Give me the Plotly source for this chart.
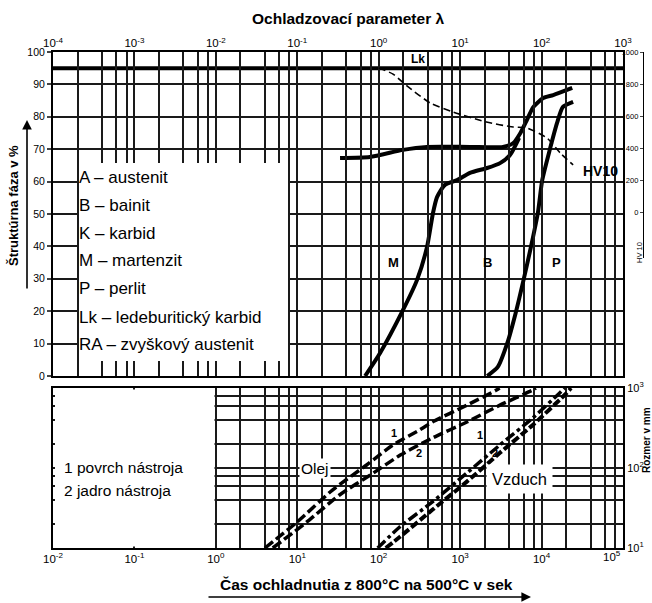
import plotly.graph_objects as go

W, H = 652, 603

# ---------------- data: upper chart (x = cooling parameter lambda) ----------------
lk_lambda = [1e-4, 1e3]
lk_pct = [95, 95]

hv_lambda = [1.0, 1.5, 2.2, 4.3, 8.2, 21, 45, 66, 117, 169, 244]
hv10 = [900, 862, 790, 681, 625, 562, 531, 525, 462, 369, 294]

upper_lambda = [0.335, 0.78, 1.99, 3.9, 13.2, 33.6, 45, 55, 66, 79, 105, 139, 238]
upper_pct = [67.3, 67.6, 69.8, 70.7, 70.7, 70.7, 71.9, 75.0, 79.0, 83.0, 85.8, 86.7, 88.9]

mb_lambda = [0.68, 1.04, 1.99, 2.95, 3.92, 4.64, 5.2, 6.5, 9.2, 13.2, 21.4, 30.9, 41, 53]
mb_pct = [0, 7.1, 20.4, 29.6, 39.8, 50.3, 55.2, 59.0, 60.5, 62.7, 64.2, 65.7, 68.2, 73.5]

bp_lambda = [21.5, 29, 38, 48, 60, 74, 90, 102, 126, 155, 182, 244]
bp_pct = [0, 2.8, 10.2, 19.4, 29.6, 39.8, 50.3, 60.5, 69.8, 78.1, 83.0, 84.6]

legend_lines = ["A – austenit", "B – bainit", "K – karbid", "M – martenzit",
                "P – perlit", "Lk – ledeburitický karbid", "RA – zvyškový austenit"]

# ---------------- data: lower chart (x = time 800->500 C, y = size mm) ----------------
oil_t1 = [4.0, 9.9, 27, 71, 148, 318, 456, 1210, 2800, 3050]
oil_d1 = [10, 21, 53, 109, 193, 299, 376, 610, 944, 1000]
oil_t2 = [5.0, 13, 33, 85, 184, 456, 1210, 3080, 7800, 8500]
oil_d2 = [10, 21, 46, 86, 145, 237, 376, 610, 944, 1000]
air_t1 = [97, 181, 456, 1200, 3060, 7800, 16700, 19200]
air_d1 = [10, 18.3, 37.6, 86, 193, 422, 868, 1000]
air_t2 = [122, 181, 456, 1200, 3060, 7800, 20400, 23000]
air_d2 = [10, 13.7, 30, 67, 154, 345, 868, 1000]

pct_ticks = list(range(0, 101, 10))
hv_ticks = [0, 200, 400, 600, 800, 1000]
lam_decades = list(range(-4, 4))
t_decades = list(range(-2, 6))
d_decades = [1, 2, 3]
minor_k = (2, 4, 6, 8)


def px(x):
    return x / W


def py(y):
    return 1 - y / H


def sup(n):
    return f"10<sup>{n}</sup>"


lam_major = [10.0 ** n for n in lam_decades]
lam_minor = [k * 10.0 ** n for n in lam_decades[:-1] for k in minor_k]
t_major = [10.0 ** n for n in t_decades[:-1]]          # last decade label placed separately
t_minor = [k * 10.0 ** n for n in t_decades[2:-1] for k in minor_k]
d_major = [10.0 ** n for n in d_decades]
d_minor = [k * 10.0 ** n for n in d_decades[:-1] for k in minor_k]

FONT = "Liberation Sans, Arial, sans-serif"
GRID = "#1a1a1a"

fig = go.Figure()

# upper chart curves
fig.add_trace(go.Scatter(x=lk_lambda, y=lk_pct, mode="lines", xaxis="x", yaxis="y",
                         line=dict(color="black", width=4)))
fig.add_trace(go.Scatter(x=upper_lambda, y=upper_pct, mode="lines", xaxis="x", yaxis="y",
                         line=dict(color="black", width=4, shape="spline", smoothing=0.6)))
fig.add_trace(go.Scatter(x=mb_lambda, y=mb_pct, mode="lines", xaxis="x", yaxis="y",
                         line=dict(color="black", width=4, shape="spline", smoothing=0.6)))
fig.add_trace(go.Scatter(x=bp_lambda, y=bp_pct, mode="lines", xaxis="x", yaxis="y",
                         line=dict(color="black", width=4, shape="spline", smoothing=0.6)))
fig.add_trace(go.Scatter(x=hv_lambda, y=hv10, mode="lines", xaxis="x", yaxis="y3",
                         line=dict(color="black", width=1.6, dash="7px,4px", shape="spline", smoothing=0.6)))

# lower chart curves
fig.add_trace(go.Scatter(x=oil_t1, y=oil_d1, mode="lines", xaxis="x2", yaxis="y2",
                         line=dict(color="black", width=3.5, dash="10px,4px", shape="spline", smoothing=0.6)))
fig.add_trace(go.Scatter(x=oil_t2, y=oil_d2, mode="lines", xaxis="x2", yaxis="y2",
                         line=dict(color="black", width=3.5, dash="10px,4px", shape="spline", smoothing=0.6)))
fig.add_trace(go.Scatter(x=air_t2, y=air_d2, mode="lines", xaxis="x2", yaxis="y2",
                         line=dict(color="black", width=4, dash="8px,3px", shape="spline", smoothing=0.6)))
fig.add_trace(go.Scatter(x=air_t1, y=air_d1, mode="lines", xaxis="x2", yaxis="y2",
                         line=dict(color="black", width=3.5, dash="dashdot", shape="spline", smoothing=0.6)))

XDOM = [px(53), px(623)]
axis_common = dict(showline=True, linecolor="black", linewidth=2, mirror=True,
                   gridcolor=GRID, gridwidth=1.6, zeroline=False, automargin=False,
                   tickfont=dict(family=FONT, size=11.5, color="black"))
minor_common = dict(showgrid=True, gridcolor=GRID, gridwidth=1.6, ticks="")

fig.update_layout(
    width=W, height=H, autosize=False,
    margin=dict(l=0, r=0, t=0, b=0, autoexpand=False),
    paper_bgcolor="white", plot_bgcolor="rgba(0,0,0,0)",
    showlegend=False,
    font=dict(family=FONT, color="black"),
    xaxis=dict(axis_common, type="log", domain=XDOM, range=[-4, 3], anchor="y", side="top",
               tickmode="array", tickvals=lam_major, ticktext=[sup(n) for n in lam_decades],
               ticks="", showgrid=True, tickangle=0, ticklabelstandoff=-2,
               minor=dict(minor_common, tickmode="array", tickvals=lam_minor)),
    yaxis=dict(axis_common, domain=[py(376), py(52)], range=[0, 100], anchor="x",
               tickmode="array", tickvals=pct_ticks, ticks="outside", ticklen=4, tickwidth=1.5,
               tickfont=dict(family=FONT, size=10.5, color="black"), showgrid=True),
    yaxis3=dict(domain=[py(258), py(52)], range=[-287.5, 1000], anchor="free", position=px(643),
                side="left", tickmode="array", tickvals=hv_ticks, ticks="outside", ticklen=3,
                tickwidth=1, showline=True, linecolor="black", linewidth=1.3, showgrid=False,
                zeroline=False, automargin=False,
                tickfont=dict(family=FONT, size=7.5, color="black")),
    xaxis2=dict(axis_common, type="log", domain=XDOM, range=[-2, 5], anchor="y2", side="bottom",
                tickmode="array", tickvals=t_major, ticktext=[sup(n) for n in t_decades[:-1]],
                ticks="", showgrid=True, tickangle=0, ticklabelstandoff=-1,
                minor=dict(minor_common, tickmode="array", tickvals=t_minor)),
    yaxis2=dict(axis_common, type="log", domain=[py(548), py(388)], range=[1, 3], anchor="x2",
                side="right", tickmode="array", tickvals=d_major,
                ticktext=[sup(n) for n in d_decades], ticks="", showgrid=True,
                tickfont=dict(family=FONT, size=11, color="black"),
                minor=dict(minor_common, tickmode="array", tickvals=d_minor)),
)

# white blank areas hiding the grid (no traces pass through them)
fig.add_shape(type="rect", xref="paper", yref="paper",
              x0=px(79), x1=px(288), y0=py(361), y1=py(163),
              fillcolor="white", line=dict(width=0), layer="above")
fig.add_shape(type="rect", xref="paper", yref="paper",
              x0=px(55), x1=px(214.5), y0=py(546.5), y1=py(389.5),
              fillcolor="white", line=dict(width=0), layer="above")

ann = []


def text(x, y, s, size, bold=False, anchor="center", angle=0, bg=None, pad=1):
    a = dict(x=px(x), y=py(y), xref="paper", yref="paper", showarrow=False,
             text=f"<b>{s}</b>" if bold else s, xanchor=anchor, yanchor="middle",
             font=dict(family=FONT, size=size, color="black"), textangle=angle)
    if bg:
        a.update(bgcolor=bg, borderpad=pad)
    ann.append(a)


text(348, 19, "Ochladzovací parameter λ", 15.5, bold=True)
text(13, 206, "Štruktúrna fáza v %", 13, bold=True, angle=-90)
text(418, 59, "Lk", 12, bold=True)
text(600, 171, "HV10", 14, bold=True)
text(393, 262, "M", 13, bold=True)
text(487, 262, "B", 13, bold=True)
text(556, 262, "P", 13, bold=True)
text(639, 253, "HV 10", 7.5, angle=-90)
for i, s in enumerate(legend_lines):
    text(77, 177 + i * 28, s, 17, anchor="left")

text(62, 467, "1 povrch nástroja", 15.5, anchor="left")
text(62, 490, "2 jadro nástroja", 15.5, anchor="left")
text(315, 468, "Olej", 15.5, bg="white", pad=1)
text(519, 479, "Vzduch", 16.5, bg="white", pad=5)
text(394, 433, "1", 11, bold=True)
text(419, 453, "2", 11, bold=True)
text(480, 435, "1", 11, bold=True)
text(495, 453, "2", 11, bold=True)
text(612, 556, sup(t_decades[-1]), 11.5)
text(366, 584, "Čas ochladnutia z 800°C na 500°C v sek", 15.5, bold=True)
text(646, 440, "Rozmer v mm", 10, bold=True, angle=-90)

# arrows on axis titles
ann.append(dict(x=px(27), y=py(120), xref="paper", yref="paper", ax=0, ay=170,
                axref="pixel", ayref="pixel", text="", showarrow=True,
                arrowhead=2, arrowsize=1.2, arrowwidth=1.6, arrowcolor="black"))
ann.append(dict(x=px(531), y=py(597), xref="paper", yref="paper", ax=-324, ay=0,
                axref="pixel", ayref="pixel", text="", showarrow=True,
                arrowhead=2, arrowsize=1.2, arrowwidth=1.6, arrowcolor="black"))

fig.update_layout(annotations=ann)

fig.write_html("out.html")
